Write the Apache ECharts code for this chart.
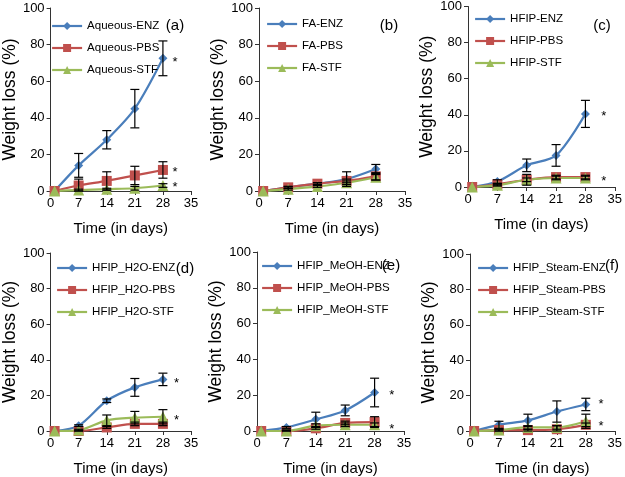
<!DOCTYPE html>
<html><head><meta charset="utf-8">
<script src="https://cdn.jsdelivr.net/npm/echarts@6/dist/echarts.min.js"></script>
<style>html,body{margin:0;padding:0;background:#fff}#c{width:625px;height:477px}</style>
</head><body><div id="c"></div>
<script>
const days = [1, 7, 14, 21, 28];
const xTickInterval = 7;
const panelLabels = ['(a)', '(b)', '(c)', '(d)', '(e)', '(f)'];
const prefixes = ['Aqueous', 'FA', 'HFIP', 'HFIP_H2O', 'HFIP_MeOH', 'HFIP_Steam'];

// (a) Aqueous
const aENZ = [0, 14, 28, 45, 72.5];   const aENZerr = [0, 6.5, 5, 10.5, 9.5];
const aPBS = [0, 3, 5.5, 8.5, 11.5];   const aPBSerr = [0, 3.5, 5, 5, 4.5];
const aSTF = [0, 0.5, 1, 1.5, 3];     const aSTFerr = [0, 0.5, 0.5, 1, 1];
// (b) FA
const bENZ = [0, 2, 4, 6.5, 12];      const bENZerr = [0, 0.5, 0.5, 4, 2.5];
const bPBS = [0, 2, 4, 5.5, 8];       const bPBSerr = [0, 0.5, 0.5, 1, 2];
const bSTF = [0, 1, 2.5, 4.5, 7.5];   const bSTFerr = [0, 0.5, 0.5, 1, 1.5];
// (c) HFIP
const cENZ = [0, 3, 12, 17.5, 40.5];  const cENZerr = [0, 1, 3.5, 6, 7.5];
const cPBS = [0, 1.5, 4, 5.5, 5.5];   const cPBSerr = [0, 0.5, 1, 1, 1];
const cSTF = [0, 1, 4, 5, 5];         const cSTFerr = [0, 0.5, 3, 1, 1];
// (d) HFIP_H2O
const dENZ = [0, 3, 17, 24.5, 29];    const dENZerr = [0, 0.5, 1, 5, 3.5];
const dPBS = [0, 0, 2, 4, 4];         const dPBSerr = [0, 0.5, 0.5, 1, 1];
const dSTF = [0, 0.5, 6, 7.5, 8];     const dSTFerr = [0, 0.5, 3, 3.5, 4];
// (e) HFIP_MeOH
const eENZ = [0, 2, 6.5, 11.5, 21.5]; const eENZerr = [0, 0.5, 4, 3, 8];
const ePBS = [0, 0, 1.5, 4.5, 5];     const ePBSerr = [0, 0.5, 0.5, 1, 3];
const eSTF = [0, 0, 3, 3.5, 3.5];     const eSTFerr = [0, 0.5, 1, 1, 1];
// (f) HFIP_Steam
const fENZ = [0, 3.5, 6, 11, 15];     const fENZerr = [0, 2, 3.5, 6, 3.5];
const fPBS = [0, 0.5, 0.5, 1, 3.5];   const fPBSerr = [0, 0.5, 0.5, 2, 1];
const fSTF = [0, 0.5, 2, 2, 5.5];     const fSTFerr = [0, 0.5, 1, 1, 4];

// asterisk annotations [day, value]
const astA = [[31, 72], [31, 12], [31, 3.8]];
const astB = [];
const astC = [[32.4, 41], [32.4, 5]];
const astD = [[31.4, 28.5], [31.4, 7.7]];
const astE = [[32.1, 21.5], [32.1, 2.8]];
const astF = [[31.7, 16.5], [31.7, 4.4]];

const panels = [
  {enz: aENZ, enzE: aENZerr, pbs: aPBS, pbsE: aPBSerr, stf: aSTF, stfE: aSTFerr, ast: astA},
  {enz: bENZ, enzE: bENZerr, pbs: bPBS, pbsE: bPBSerr, stf: bSTF, stfE: bSTFerr, ast: astB},
  {enz: cENZ, enzE: cENZerr, pbs: cPBS, pbsE: cPBSerr, stf: cSTF, stfE: cSTFerr, ast: astC},
  {enz: dENZ, enzE: dENZerr, pbs: dPBS, pbsE: dPBSerr, stf: dSTF, stfE: dSTFerr, ast: astD},
  {enz: eENZ, enzE: eENZerr, pbs: ePBS, pbsE: ePBSerr, stf: eSTF, stfE: eSTFerr, ast: astE},
  {enz: fENZ, enzE: fENZerr, pbs: fPBS, pbsE: fPBSerr, stf: fSTF, stfE: fSTFerr, ast: astF}
];

// layout (pixels)
const grids = [
  {left: 47, top: 8, width: 144, height: 183},
  {left: 259, top: 8, width: 146, height: 183},
  {left: 468, top: 6, width: 149, height: 181},
  {left: 45, top: 253, width: 146, height: 183},
  {left: 257, top: 252, width: 147, height: 181},
  {left: 470, top: 254, width: 147, height: 182}
];
const legendPos = [
  {left: 51, top: 20}, {left: 266, top: 18}, {left: 474, top: 13},
  {left: 56, top: 262}, {left: 261, top: 260}, {left: 477, top: 262}
];
const labelPos = [
  {x: 175, y: 26}, {x: 389, y: 26}, {x: 602, y: 26},
  {x: 185, y: 269}, {x: 391, y: 266}, {x: 612, y: 266}
];

const FONT = 'Arial, "Liberation Sans", sans-serif';
const COLORS = {ENZ: '#4A7EBB', PBS: '#C0504D', STF: '#9BBB59'};
const SYMB = {ENZ: 'diamond', PBS: 'rect', STF: 'triangle'};
const SYMS = {ENZ: 9, PBS: 10, STF: 11};

function errRender(params, api) {
  const x = api.value(0), y = api.value(1), e = api.value(2);
  if (!e) return;
  const t = api.coord([x, y + e]);
  const b = api.coord([x, Math.max(0, y - e)]);
  const w = 4.5;
  const st = {stroke: '#000', lineWidth: 1.2};
  return {type: 'group', children: [
    {type: 'line', shape: {x1: t[0], y1: t[1], x2: b[0], y2: b[1]}, style: st},
    {type: 'line', shape: {x1: t[0] - w, y1: t[1], x2: t[0] + w, y2: t[1]}, style: st},
    {type: 'line', shape: {x1: b[0] - w, y1: b[1], x2: b[0] + w, y2: b[1]}, style: st}
  ]};
}
function astRender(params, api) {
  const p = api.coord([api.value(0), api.value(1)]);
  return {type: 'text', x: p[0], y: p[1] + 3, style: {text: '*', fill: '#000', font: '13px ' + FONT, align: 'center', verticalAlign: 'middle'}};
}

const option = {
  animation: false,
  backgroundColor: '#fff',
  grid: [], xAxis: [], yAxis: [], legend: [], series: [], graphic: []
};

panels.forEach((p, i) => {
  option.grid.push(Object.assign({containLabel: false}, grids[i]));
  option.xAxis.push({
    type: 'value', gridIndex: i, min: 0, max: 35, interval: xTickInterval,
    name: 'Time (in days)', nameLocation: 'middle', nameGap: 30,
    nameTextStyle: {fontSize: 15, color: '#000', fontFamily: FONT},
    axisLine: {show: true, onZero: false, lineStyle: {color: '#333', width: 1}},
    axisTick: {show: true, inside: false, length: 4, lineStyle: {color: '#333'}},
    axisLabel: {fontSize: 13, color: '#000', fontFamily: FONT, margin: 6},
    splitLine: {show: false}
  });
  option.yAxis.push({
    type: 'value', gridIndex: i, min: 0, max: 100, interval: 20,
    name: 'Weight loss (%)', nameLocation: 'middle', nameGap: 23,
    nameTextStyle: {fontSize: 17.5, color: '#000', fontFamily: FONT},
    axisLine: {show: true, lineStyle: {color: '#333', width: 1}},
    axisTick: {show: true, inside: false, length: 4, lineStyle: {color: '#333'}},
    axisLabel: {fontSize: 13, color: '#000', fontFamily: FONT, margin: 6},
    splitLine: {show: false}
  });
  const names = [];
  [['ENZ', p.enz, p.enzE], ['PBS', p.pbs, p.pbsE], ['STF', p.stf, p.stfE]].forEach(([k, vals, errs]) => {
    const nm = prefixes[i] + '-' + k;
    names.push(nm);
    option.series.push({
      type: 'line', name: nm, xAxisIndex: i, yAxisIndex: i,
      data: days.map((d, j) => [d, vals[j]]),
      smooth: 0.3, symbol: SYMB[k], symbolSize: SYMS[k], showAllSymbol: true,
      lineStyle: {color: COLORS[k], width: 2.2},
      itemStyle: {color: COLORS[k]}, z: 3
    });
    option.series.push({
      type: 'custom', name: nm + ' err', xAxisIndex: i, yAxisIndex: i,
      renderItem: errRender, data: days.map((d, j) => [d, vals[j], errs[j]]), z: 4, silent: true
    });
  });
  if (p.ast.length) {
    option.series.push({
      type: 'custom', name: 'ast' + i, xAxisIndex: i, yAxisIndex: i,
      renderItem: astRender, data: p.ast, z: 5, silent: true
    });
  }
  option.legend.push({
    data: names, orient: 'vertical', left: legendPos[i].left, top: legendPos[i].top,
    itemWidth: 30, itemHeight: 10, itemGap: 10,
    lineStyle: {width: 2.2},
    textStyle: {fontSize: 11.5, color: '#000', fontFamily: FONT},
    selectedMode: false, padding: 0
  });
  option.graphic.push({
    type: 'text', x: labelPos[i].x, y: labelPos[i].y,
    style: {text: panelLabels[i], fill: '#000', font: '15px ' + FONT, align: 'center', verticalAlign: 'middle'}
  });
});

const chart = echarts.init(document.getElementById('c'), null, {renderer: 'canvas'});
chart.setOption(option);
</script>
</body></html>
